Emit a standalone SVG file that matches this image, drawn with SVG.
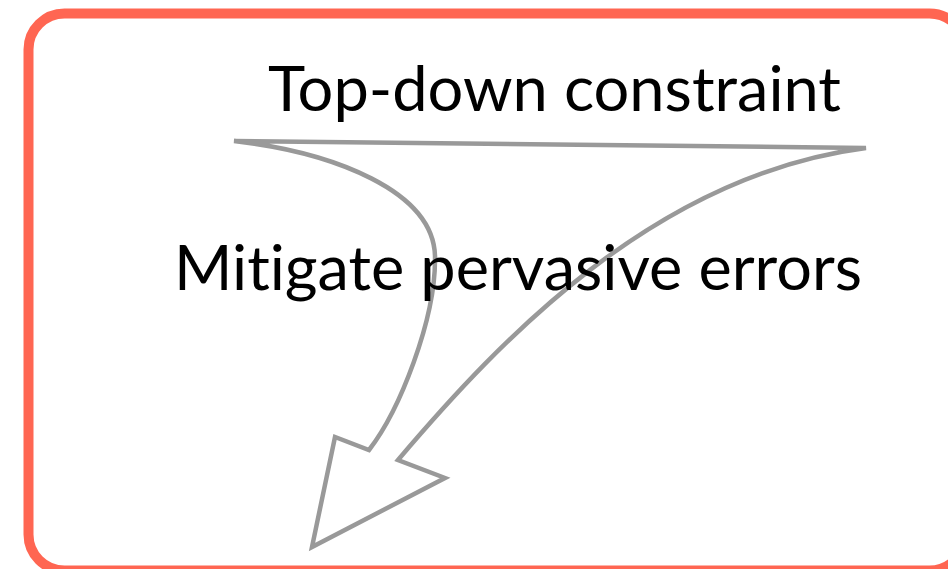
<svg xmlns="http://www.w3.org/2000/svg" width="948" height="569" viewBox="0 0 948 569">
  <style>
    .frame { fill: none; stroke: #FF6652; stroke-width: 10; }
    .arrow { fill: none; stroke: #999999; stroke-width: 4.5; stroke-linejoin: miter; }
    .label { font-family: Lato, "Noto Sans", "Liberation Sans", sans-serif; font-size: 62px; fill: #000000; font-variant-ligatures: none; }
  </style>
  <rect width="948" height="569" fill="#ffffff"/>
  <g id="frame">
    <rect class="frame" x="28.5" y="13.5" width="937" height="557" rx="36" ry="36"/>
  </g>
  <g id="connectors">
    <!-- split curved arrow: two streams merging into one head -->
    <path class="arrow" d="M234,141 L866,148 C655,175 500,340 398,460 L445,478 L312,547 L335,437 L369,450 C400,410 435,320 435,260 C437,190 330,152 234,141 Z"/>
  </g>
  <g id="node-top">
    <text class="label" x="268" y="111" textLength="573" lengthAdjust="spacingAndGlyphs">Top-down constraint</text>
  </g>
  <g id="node-middle">
    <text class="label" x="174" y="290" textLength="688" lengthAdjust="spacingAndGlyphs">Mitigate pervasive errors</text>
  </g>
</svg>
